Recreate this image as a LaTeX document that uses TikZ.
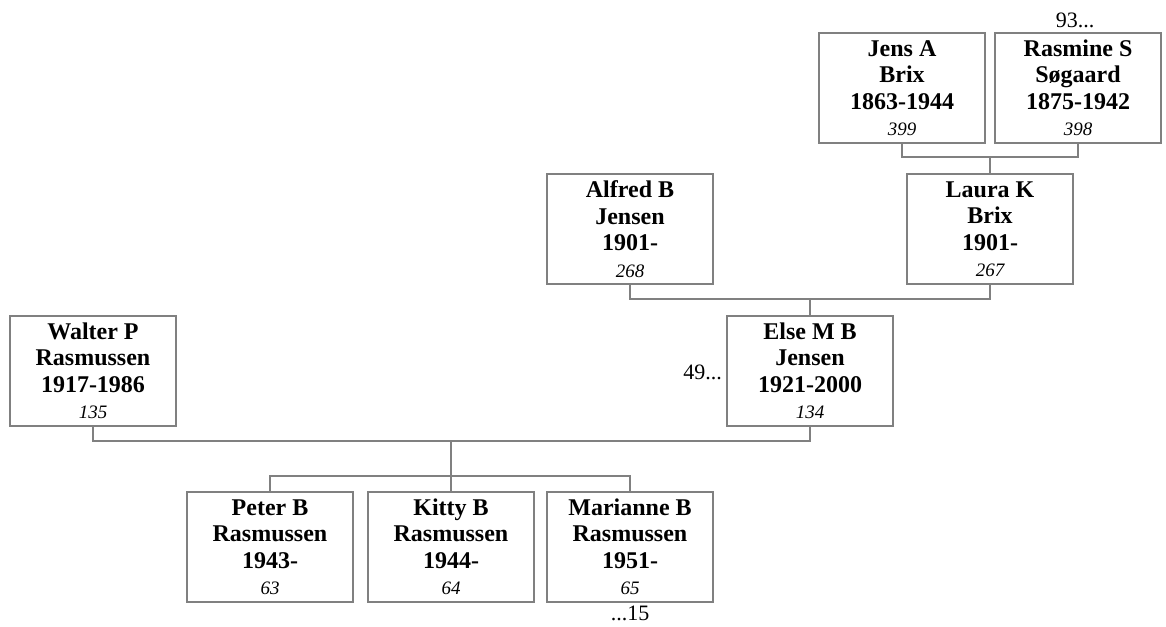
\documentclass[tikz,border=0pt]{standalone}
\usepackage{fontspec}
\setmainfont{Liberation Serif}
\definecolor{edgegray}{RGB}{128,128,128}
\newcommand{\idnum}[1]{{\fontsize{19}{26.5}\selectfont\mdseries\itshape #1}}
\begin{document}
\begin{tikzpicture}[x=1pt,y=-1pt,
  person/.style={draw=edgegray, line width=1.2pt, minimum width=166pt, minimum height=110pt,
    inner sep=0pt, align=center, font=\fontsize{24}{26.5}\selectfont\bfseries},
  link/.style={draw=edgegray, line width=1.2pt},
  note/.style={font=\fontsize{22}{26}\selectfont, inner sep=0pt}]
\useasboundingbox (0,0) rectangle (1166,626);
% persons
\node[person] (jens) at (902,88) {Jens A\\Brix\\1863-1944\\\idnum{399}};
\node[person] (ras) at (1078,88) {Rasmine S\\Søgaard\\1875-1942\\\idnum{398}};
\node[person] (alfred) at (630,229) {Alfred B\\Jensen\\1901-\\\idnum{268}};
\node[person] (laura) at (990,229) {Laura K\\Brix\\1901-\\\idnum{267}};
\node[person] (walter) at (93,371) {Walter P\\Rasmussen\\1917-1986\\\idnum{135}};
\node[person] (elsem) at (810,371) {Else M B\\Jensen\\1921-2000\\\idnum{134}};
\node[person] (peter) at (270,547) {Peter B\\Rasmussen\\1943-\\\idnum{63}};
\node[person] (kitty) at (451,547) {Kitty B\\Rasmussen\\1944-\\\idnum{64}};
\node[person] (marianne) at (630,547) {Marianne B\\Rasmussen\\1951-\\\idnum{65}};
% notes
\node[note, anchor=base] (n93) at (1075,28) {93...};
\node[note, anchor=base east] (n49) at (722,379) {49...};
\node[note, anchor=base] (n15) at (630,620) {...15};
% bars
\coordinate (bar1) at (0,157);
\coordinate (bar2) at (0,299);
\coordinate (bar3) at (0,441);
\coordinate (bar4) at (0,476);
% connectors
\draw[link] (jens.south) -- (jens.south |- bar1) -- (ras.south |- bar1) -- (ras.south);
\draw[link] (laura.north) -- (laura.north |- bar1);
\draw[link] (alfred.south) -- (alfred.south |- bar2) -- (laura.south |- bar2) -- (laura.south);
\draw[link] (elsem.north) -- (elsem.north |- bar2);
\draw[link] (walter.south) -- (walter.south |- bar3) -- (elsem.south |- bar3) -- (elsem.south);
\draw[link] (kitty.north) -- (kitty.north |- bar3);
\draw[link] (peter.north) -- (peter.north |- bar4) -- (marianne.north |- bar4) -- (marianne.north);
\end{tikzpicture}
\end{document}
